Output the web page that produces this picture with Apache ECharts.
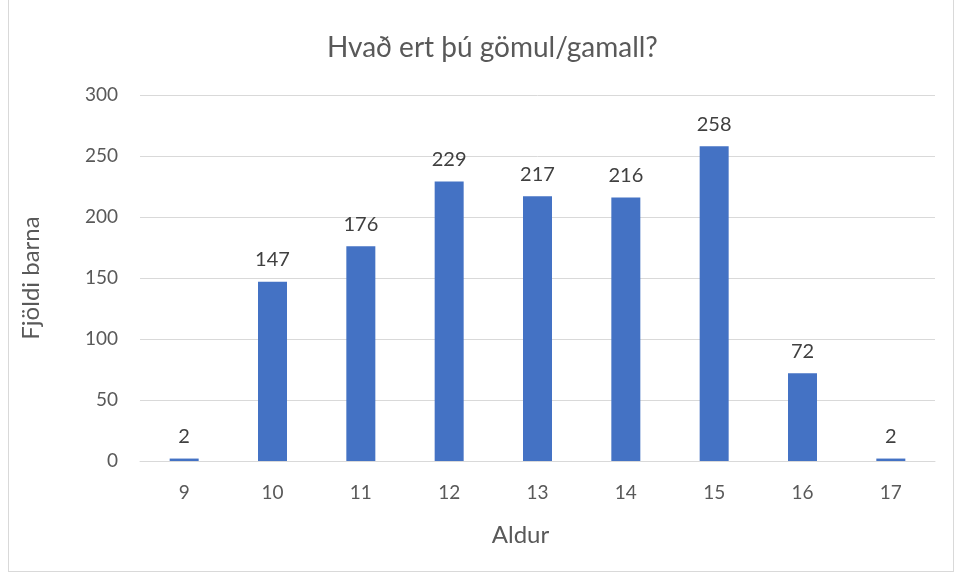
<!DOCTYPE html>
<html>
<head>
<meta charset="utf-8">
<script src="https://cdn.jsdelivr.net/npm/echarts@6/dist/echarts.min.js"></script>
<style>
  html, body { margin: 0; padding: 0; background: #fff; }
  #frame { position: absolute; left: 8px; top: -1px; width: 944px; height: 571px; border: 1px solid #d9d9d9; }
  #main { position: absolute; left: 0; top: 0; width: 955px; height: 576px; }
</style>
</head>
<body>
<div id="frame"></div>
<div id="main"></div>
<script>
// aldur barnanna og fjöldi
const categories = ['9', '10', '11', '12', '13', '14', '15', '16', '17']
const counts = [2, 147, 176, 229, 217, 216, 258, 72, 2]
const yTicks = { min: 0, max: 300, interval: 50 }

const font = 'Lato, "Open Sans", sans-serif'
const myChart = echarts.init(document.getElementById('main'))
myChart.setOption({
  animation: false,
  title: {
    text: 'Hvað ert þú gömul/gamall?',
    left: 322,
    top: 29,
    textStyle: { fontFamily: font, fontSize: 28, fontWeight: 'normal', color: '#595959' }
  },
  grid: { left: 140, right: 20, top: 95, bottom: 115 },
  xAxis: {
    type: 'category',
    data: categories,
    name: 'Aldur',
    nameLocation: 'middle',
    nameGap: 62,
    nameTextStyle: { fontFamily: font, fontSize: 24, color: '#595959', padding: [0, 34, 0, 0] },
    axisLine: { lineStyle: { color: '#d9d9d9' } },
    axisTick: { show: false },
    axisLabel: { fontFamily: font, fontSize: 19, color: '#595959', margin: 22 }
  },
  yAxis: {
    type: 'value',
    min: yTicks.min,
    max: yTicks.max,
    interval: yTicks.interval,
    name: 'Fjöldi barna',
    nameLocation: 'middle',
    nameGap: 97,
    nameTextStyle: { fontFamily: font, fontSize: 24, color: '#595959' },
    axisLine: { show: false },
    axisTick: { show: false },
    axisLabel: { fontFamily: font, fontSize: 19, color: '#595959', margin: 22 },
    splitLine: { lineStyle: { color: '#d9d9d9' } }
  },
  series: [{
    type: 'bar',
    data: counts,
    barWidth: 29,
    itemStyle: { color: '#4472c4' },
    label: {
      show: true,
      position: 'top',
      distance: 12,
      fontFamily: font,
      fontSize: 20,
      color: '#404040'
    }
  }]
})
</script>
</body>
</html>
